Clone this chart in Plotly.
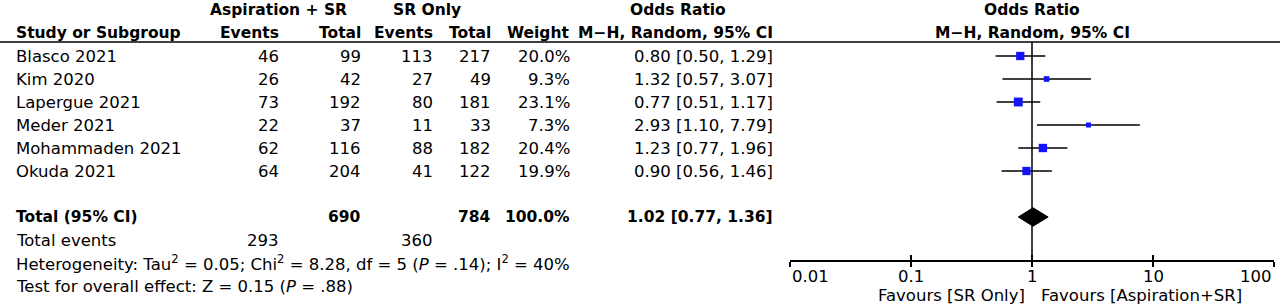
import math
import plotly.graph_objects as go

# ---- data ----
studies = ["Blasco 2021", "Kim 2020", "Lapergue 2021", "Meder 2021", "Mohammaden 2021", "Okuda 2021"]
asp_events = [46, 26, 73, 22, 62, 64]
asp_total = [99, 42, 192, 37, 116, 204]
sr_events = [113, 27, 80, 11, 88, 41]
sr_total = [217, 49, 181, 33, 182, 122]
weights = [20.0, 9.3, 23.1, 7.3, 20.4, 19.9]
odds = [0.80, 1.32, 0.77, 2.93, 1.23, 0.90]
ci_low = [0.50, 0.57, 0.51, 1.10, 0.77, 0.56]
ci_high = [1.29, 3.07, 1.17, 7.79, 1.96, 1.46]
total_asp = 690
total_sr = 784
total_weight = 100.0
pooled = 1.02
pooled_low = 0.77
pooled_high = 1.36
events_asp = 293
events_sr = 360
tick_vals = [0.01, 0.1, 1, 10, 100]
tick_text = ["0.01", "0.1", "1", "10", "100"]

W, H = 1280, 306
FONT = "DejaVu Sans"
FS = 16.5
FSB = 15.5
BLUE = "rgb(20,20,250)"

rows = list(range(len(studies)))
r_total = len(studies) + 1
r_events = r_total + 1
r_het = r_total + 2
r_test = r_total + 3
row_px = 23.0
row0_px = 56
def px2row(p):
    return (p - row0_px) / row_px

fig = go.Figure()

# vertical line of no effect
fig.add_trace(go.Scatter(x=[1, 1], y=[px2row(42), px2row(261)], mode="lines",
                         line=dict(color="black", width=1.5), hoverinfo="skip", showlegend=False))

# CI lines
cx, cy = [], []
for r, lo, hi in zip(rows, ci_low, ci_high):
    cx += [lo, hi, None]
    cy += [r, r, None]
fig.add_trace(go.Scatter(x=cx, y=cy, mode="lines", line=dict(color="black", width=1.3),
                         hoverinfo="skip", showlegend=False))

# study squares
fig.add_trace(go.Scatter(x=odds, y=rows, mode="markers",
                         marker=dict(symbol="square", color=BLUE, opacity=1,
                                     size=[1.85 * math.sqrt(w) for w in weights],
                                     line=dict(width=0)),
                         hoverinfo="skip", showlegend=False))

# pooled diamond
dh = 0.4
fig.add_trace(go.Scatter(x=[pooled_low, pooled, pooled_high, pooled, pooled_low],
                         y=[r_total, r_total - dh, r_total, r_total + dh, r_total],
                         mode="lines", fill="toself", fillcolor="black",
                         line=dict(color="black", width=1), hoverinfo="skip", showlegend=False))

ax_common = dict(type="log", range=[-2, 2], showgrid=False, zeroline=False,
                 showline=True, linecolor="black", linewidth=1.5,
                 tickvals=tick_vals, showticklabels=False,
                 tickcolor="black", tickwidth=1.5, ticklen=5,
                 domain=[790 / W, 1274 / W], anchor="free", position=1 - 261 / H)
fig.update_layout(
    xaxis=dict(ax_common, ticks="outside"),
    xaxis2=dict(ax_common, ticks="inside", overlaying="x"),
    yaxis=dict(range=[px2row(H), px2row(0)], domain=[0, 1], visible=False),
    width=W, height=H, margin=dict(l=0, r=0, t=0, b=0),
    plot_bgcolor="white", paper_bgcolor="white",
    font=dict(family=FONT, size=FS, color="black"),
)
fig.add_trace(go.Scatter(x=[1], y=[None], xaxis="x2", yaxis="y", showlegend=False, hoverinfo="skip"))

# header line
fig.add_shape(type="line", xref="paper", yref="y", x0=0, x1=1, y0=px2row(42), y1=px2row(42),
              line=dict(color="black", width=1.5))

ann = []
def txt(x_px, row, s, anchor="right", bold=False):
    size = FSB if bold else FS
    if bold:
        s = "<b>" + s + "</b>"
    ann.append(dict(x=x_px / W, y=row, xref="paper", yref="y", text=s, showarrow=False,
                    xanchor=anchor, yanchor="middle", font=dict(family=FONT, size=size, color="black")))

COL_STUDY, COL_AE, COL_AT, COL_SE, COL_ST, COL_W, COL_OR = 14, 281, 363, 435, 493, 572, 775
hr1, hr2 = -2, -1
txt(278, hr1, "Aspiration + SR", "center", True)
txt(427, hr1, "SR Only", "center", True)
txt(678, hr1, "Odds Ratio", "center", True)
txt(1032, hr1, "Odds Ratio", "center", True)
txt(COL_STUDY, hr2, "Study or Subgroup", "left", True)
txt(COL_AE, hr2, "Events", bold=True)
txt(COL_AT, hr2, "Total", bold=True)
txt(COL_SE, hr2, "Events", bold=True)
txt(COL_ST, hr2, "Total", bold=True)
txt(COL_W, hr2, "Weight", bold=True)
txt(COL_OR, hr2, "M\u2212H, Random, 95% CI", bold=True)
txt(1032, hr2, "M\u2212H, Random, 95% CI", "center", True)

for r, s, ae, at, se, st, w, o, lo, hi in zip(rows, studies, asp_events, asp_total, sr_events,
                                               sr_total, weights, odds, ci_low, ci_high):
    txt(COL_STUDY, r, s, "left")
    txt(COL_AE, r, str(ae))
    txt(COL_AT, r, str(at))
    txt(COL_SE, r, str(se))
    txt(COL_ST, r, str(st))
    txt(COL_W, r, f"{w:.1f}%")
    txt(COL_OR, r, f"{o:.2f} [{lo:.2f}, {hi:.2f}]")

txt(COL_STUDY, r_total, "Total (95% CI)", "left", True)
txt(COL_AT, r_total, str(total_asp), bold=True)
txt(COL_ST, r_total, str(total_sr), bold=True)
txt(COL_W, r_total, f"{total_weight:.1f}%", bold=True)
txt(COL_OR, r_total, f"{pooled:.2f} [{pooled_low:.2f}, {pooled_high:.2f}]", bold=True)
txt(COL_STUDY, r_events, "Total events", "left")
txt(COL_AE, r_events, str(events_asp))
txt(COL_SE, r_events, str(events_sr))
txt(COL_STUDY, r_het, "Heterogeneity: Tau<sup>2</sup> = 0.05; Chi<sup>2</sup> = 8.28, df = 5 (<i>P</i> = .14); I<sup>2</sup> = 40%", "left")
txt(COL_STUDY, r_test, "Test for overall effect: Z = 0.15 (<i>P</i> = .88)", "left")

# tick labels
for i, (v, t) in enumerate(zip(tick_vals, tick_text)):
    anchor = "left" if i == 0 else ("right" if i == len(tick_vals) - 1 else "center")
    ann.append(dict(x=math.log10(v), y=px2row(276), xref="x", yref="y", text=t, showarrow=False,
                    xanchor=anchor, yanchor="middle", font=dict(family=FONT, size=FS, color="black")))
ann.append(dict(x=math.log10(1), y=px2row(295), xref="x", yref="y", text="Favours [SR Only]",
                showarrow=False, xanchor="right", xshift=-5, yanchor="middle",
                font=dict(family=FONT, size=FS, color="black")))
ann.append(dict(x=math.log10(1), y=px2row(295), xref="x", yref="y", text="Favours [Aspiration+SR]",
                showarrow=False, xanchor="left", xshift=7, yanchor="middle",
                font=dict(family=FONT, size=FS, color="black")))
fig.update_layout(annotations=ann)

fig.write_html("out.html", config={"displayModeBar": False},
               post_script="document.body.style.margin='0px';document.body.style.overflow='hidden';")
